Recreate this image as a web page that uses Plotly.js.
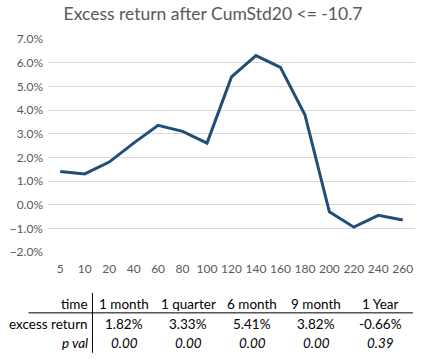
<!DOCTYPE html>
<html><head><meta charset="utf-8">
<script src="https://cdn.plot.ly/plotly-3.0.1.min.js"></script>
<style>html,body{margin:0;padding:0;background:#fff;}#chart{width:426px;height:361px;}</style>
</head><body><div id="chart"></div>
<script>
const categories = ['5','10','20','40','60','80','100','120','140','160','180','200','220','240','260'];
const excessReturn = [0.014,0.013,0.018,0.026,0.0335,0.031,0.026,0.054,0.063,0.058,0.038,-0.003,-0.0095,-0.0045,-0.0065];
const tableHeaders = ['1 month','1 quarter','6 month','9 month','1 Year'];
const tableExcess = ['1.82%','3.33%','5.41%','3.82%','-0.66%'];
const tablePval = ['0.00','0.00','0.00','0.00','0.39'];
const rowLabels = ['time','excess return','p val'];

const W=426,H=361,L=47.5,R=11,T=38.5,B=109;
const pw=W-L-R, ph=H-T-B;
const px=x=>(x-L)/pw, py=y=>(H-B-y)/ph;
const font='Lato, "Open Sans", sans-serif';
const colX=[124,188,252,316,380];
const rowY=[304,324,343];
const ann=[];
rowLabels.forEach((t,i)=>ann.push({text:i===2?'<i>'+t+'</i>':t,xref:'paper',yref:'paper',x:px(90),y:py(rowY[i]),xanchor:'right',yanchor:'middle',showarrow:false,font:{family:font,size:13.5,color:'#000'}}));
[tableHeaders,tableExcess,tablePval].forEach((row,r)=>row.forEach((t,i)=>ann.push({text:r===2?'<i>'+t+'</i>':t,xref:'paper',yref:'paper',x:px(colX[i]),y:py(rowY[r]),xanchor:'center',yanchor:'middle',showarrow:false,font:{family:font,size:13.5,color:'#000'}})));
const shapes=[
 {type:'line',xref:'paper',yref:'paper',x0:px(92),x1:px(92),y0:py(293),y1:py(353),line:{color:'#000',width:1}},
 {type:'line',xref:'paper',yref:'paper',x0:px(28),x1:px(413),y0:py(313),y1:py(313),line:{color:'#000',width:1}}
];
Plotly.newPlot('chart',[{x:categories,y:excessReturn,type:'scatter',mode:'lines',line:{color:'#1F4E79',width:3},hoverinfo:'skip'}],{
 width:W,height:H,margin:{l:L,r:R,t:T,b:B},paper_bgcolor:'#fff',plot_bgcolor:'#fff',showlegend:false,
 title:{text:'Excess return after CumStd20 <= -10.7',x:0.5,xanchor:'center',y:1-14/H,yanchor:'middle',font:{family:font,size:17.5,color:'#595959'}},
 xaxis:{type:'category',range:[-0.5,14.5],showgrid:false,zeroline:false,showline:false,ticks:'',tickfont:{family:font,size:12,color:'#595959'},ticklabelstandoff:8},
 yaxis:{range:[-0.02,0.07],dtick:0.01,tickformat:'.1%',showgrid:true,gridcolor:'#D9D9D9',gridwidth:1,zeroline:false,showline:false,ticks:'',tickfont:{family:font,size:12,color:'#595959'},ticklabelstandoff:4},
 annotations:ann,shapes:shapes,font:{family:font}
},{staticPlot:true,displayModeBar:false});
</script></body></html>
